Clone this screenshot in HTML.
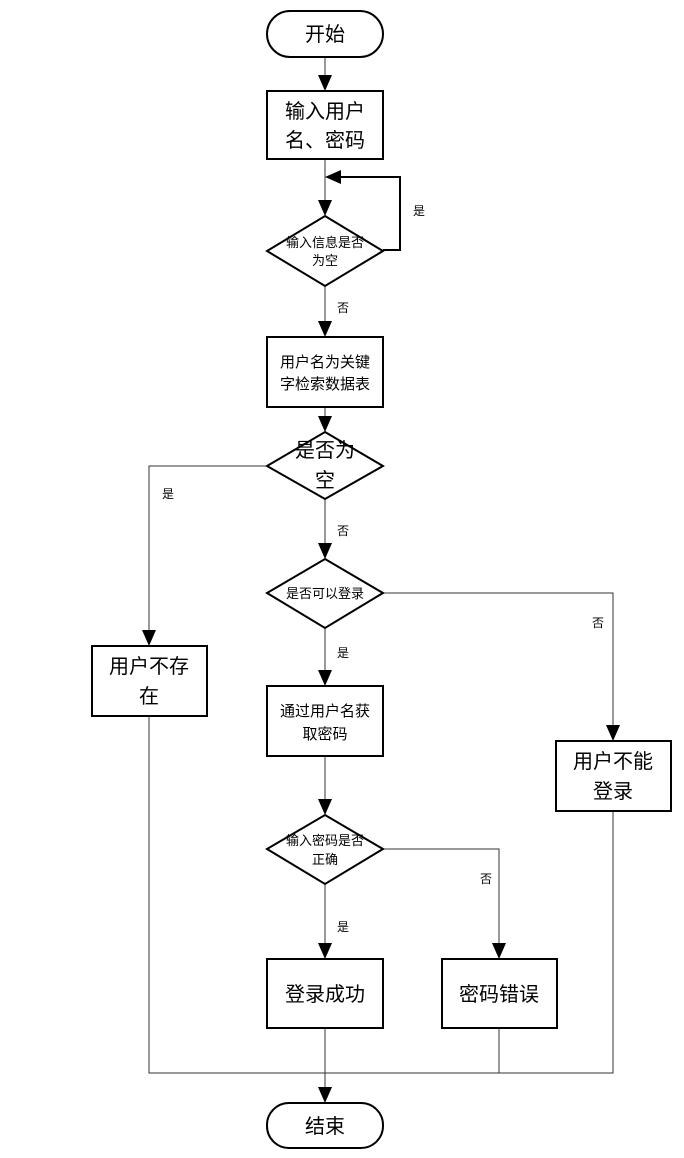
<!DOCTYPE html>
<html><head><meta charset="utf-8"><style>
html,body{margin:0;padding:0;background:#fff;}
svg{display:block;font-family:"Liberation Sans","Noto Sans CJK SC",sans-serif;}
</style></head><body>
<svg width="684" height="1158" viewBox="0 0 684 1158" xmlns="http://www.w3.org/2000/svg">
<g stroke="#333" stroke-width="1" fill="none">
<line x1="325" y1="57" x2="325" y2="77"/>
<line x1="325" y1="159" x2="325" y2="200"/>
<line x1="325" y1="286" x2="325" y2="321"/>
<line x1="325" y1="407" x2="325" y2="416"/>
<line x1="325" y1="499" x2="325" y2="543"/>
<line x1="325" y1="628" x2="325" y2="670"/>
<line x1="325" y1="756" x2="325" y2="799"/>
<line x1="325" y1="884" x2="325" y2="943"/>
<line x1="325" y1="1028" x2="325" y2="1087"/>
<polyline points="267,466 149,466 149,630"/>
<polyline points="383,593 613,593 613,725"/>
<polyline points="383,849 499,849 499,943"/>
<polyline points="149,716 149,1073 613,1073 613,811"/>
<line x1="499" y1="1028" x2="499" y2="1073"/>
</g>
<polyline points="383,250 400,250 400,177 340,177" fill="none" stroke="#000" stroke-width="2"/>
<g fill="#000">
<path d="M318,75 L332,75 L325,91 Z"/>
<path d="M318,200 L332,200 L325,216 Z"/>
<path d="M318,321 L332,321 L325,337 Z"/>
<path d="M318,416 L332,416 L325,432 Z"/>
<path d="M318,543 L332,543 L325,559 Z"/>
<path d="M318,670 L332,670 L325,686 Z"/>
<path d="M318,799 L332,799 L325,815 Z"/>
<path d="M318,943 L332,943 L325,959 Z"/>
<path d="M318,1087 L332,1087 L325,1103 Z"/>
<path d="M142,630 L156,630 L149,646 Z"/>
<path d="M606,725 L620,725 L613,741 Z"/>
<path d="M492,943 L506,943 L499,959 Z"/>
<path d="M341,170 L341,184 L325,177 Z"/>
</g>
<g stroke="#000" stroke-width="2" fill="#fff">
<rect x="267" y="11" width="116" height="46" rx="23"/>
<rect x="267" y="91" width="116" height="68"/>
<polygon points="325,216 383,251 325,286 267,251"/>
<rect x="267" y="337" width="116" height="70"/>
<polygon points="325,432 383,466 325,499 267,466"/>
<polygon points="325,559 383,593 325,628 267,593"/>
<rect x="92" y="646" width="115" height="70"/>
<rect x="267" y="686" width="116" height="70"/>
<rect x="556" y="741" width="115" height="70"/>
<polygon points="325,815 383,849 325,884 267,849"/>
<rect x="267" y="959" width="116" height="69"/>
<rect x="442" y="959" width="115" height="69"/>
<rect x="267" y="1103" width="116" height="45" rx="22"/>
</g>
<g fill="#000" text-anchor="middle">
<text x="325" y="41" font-size="20">开始</text>
<text x="325" y="118" font-size="20">输入用户</text>
<text x="325" y="147" font-size="20">名、密码</text>
<text x="325" y="247" font-size="13">输入信息是否</text>
<text x="325" y="265" font-size="13">为空</text>
<text x="325" y="367" font-size="15">用户名为关键</text>
<text x="325" y="389" font-size="15">字检索数据表</text>
<text x="325" y="457" font-size="20">是否为</text>
<text x="325" y="487" font-size="20">空</text>
<text x="325" y="598" font-size="13">是否可以登录</text>
<text x="149" y="673" font-size="20">用户不存</text>
<text x="149" y="703" font-size="20">在</text>
<text x="325" y="716" font-size="15">通过用户名获</text>
<text x="325" y="739" font-size="15">取密码</text>
<text x="613" y="768" font-size="20">用户不能</text>
<text x="613" y="798" font-size="20">登录</text>
<text x="325" y="845" font-size="13">输入密码是否</text>
<text x="325" y="864" font-size="13">正确</text>
<text x="325" y="1001" font-size="20">登录成功</text>
<text x="499" y="1001" font-size="20">密码错误</text>
<text x="325" y="1133" font-size="20">结束</text>
<g font-size="12">
<text x="419" y="215">是</text>
<text x="343" y="312">否</text>
<text x="168" y="498">是</text>
<text x="343" y="535">否</text>
<text x="598" y="627">否</text>
<text x="343" y="657">是</text>
<text x="486" y="883">否</text>
<text x="343" y="931">是</text>
</g>
</g>
</svg>
</body></html>
